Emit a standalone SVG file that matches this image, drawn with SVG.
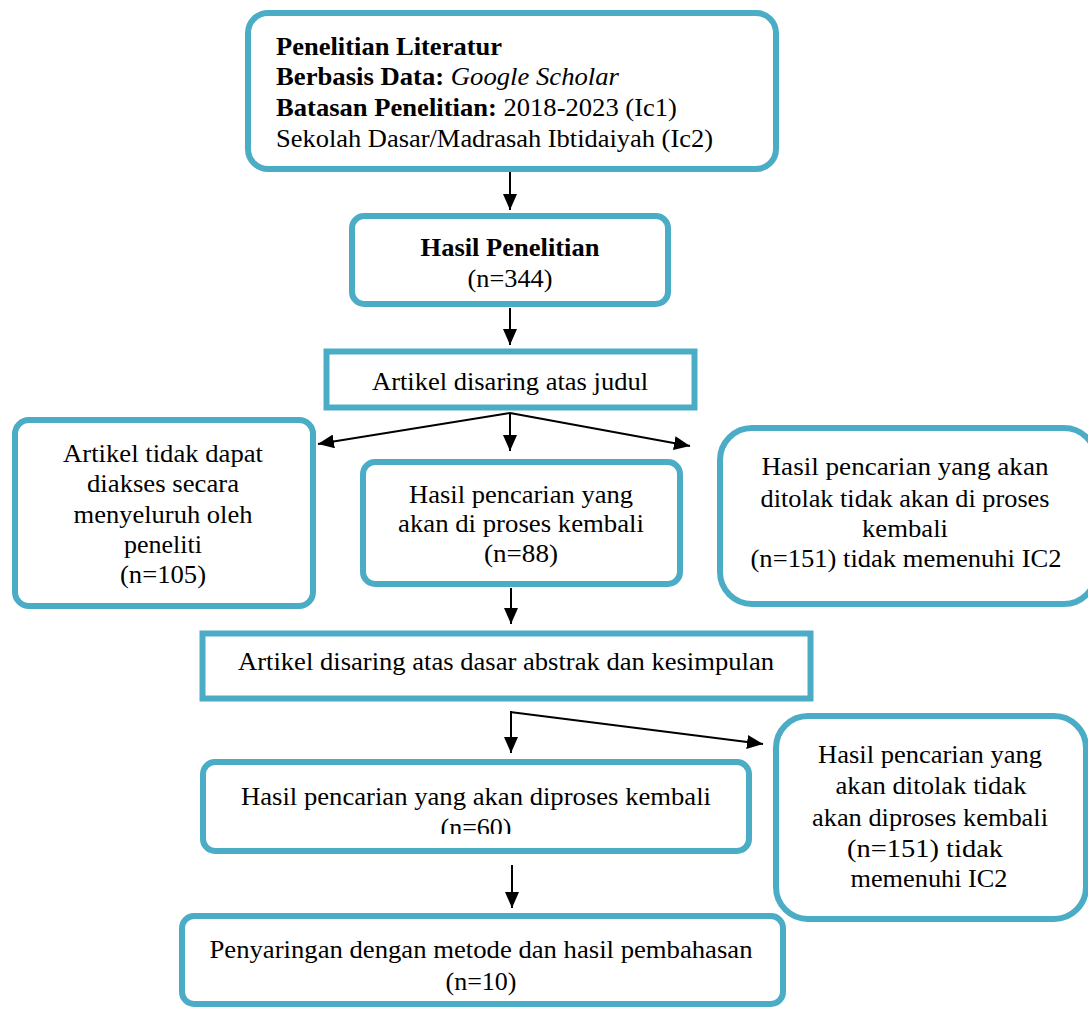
<svg xmlns="http://www.w3.org/2000/svg" width="1088" height="1009" viewBox="0 0 1088 1009">
<defs>
<style>
.box{fill:#fff;stroke:#4BACC6;stroke-width:6}
text{font-size:26px;fill:#000}
.c{text-anchor:middle}
.b{font-weight:bold}
.con{stroke:#000;stroke-width:2;fill:none}
</style>
<marker id="ah" viewBox="0 0 16 14" refX="16" refY="7" markerWidth="16" markerHeight="14" markerUnits="userSpaceOnUse" orient="auto">
<path d="M0,0 L16,7 L0,14 Z" fill="#000"/>
</marker>
<clipPath id="clip60"><rect x="205" y="765" width="540" height="69"/></clipPath>
</defs>
<rect width="1088" height="1009" fill="#fff"/>

<g id="connectors">
<line class="con" x1="510" y1="172" x2="510" y2="210" marker-end="url(#ah)"/>
<line class="con" x1="510" y1="308" x2="510" y2="345" marker-end="url(#ah)"/>
<line class="con" x1="510" y1="413" x2="318" y2="444" marker-end="url(#ah)"/>
<line class="con" x1="510" y1="413" x2="510" y2="451" marker-end="url(#ah)"/>
<line class="con" x1="510" y1="413" x2="690" y2="446" marker-end="url(#ah)"/>
<line class="con" x1="511" y1="588" x2="511" y2="624" marker-end="url(#ah)"/>
<line class="con" x1="511" y1="711" x2="511" y2="753" marker-end="url(#ah)"/>
<line class="con" x1="510" y1="712" x2="763" y2="744" marker-end="url(#ah)"/>
<line class="con" x1="512" y1="865" x2="512" y2="908" marker-end="url(#ah)"/>
</g>

<g font-family="'Liberation Serif', 'Times New Roman', Times, 'DejaVu Serif', serif">
<g id="n1">
<rect class="box" x="248" y="13" width="528" height="156" rx="20"/>
<text x="276" y="55" textLength="226" lengthAdjust="spacingAndGlyphs" class="b">Penelitian Literatur</text>
<text x="276" y="85" textLength="343" lengthAdjust="spacingAndGlyphs"><tspan class="b">Berbasis Data: </tspan><tspan font-style="italic">Google Scholar</tspan></text>
<text x="276" y="116" textLength="401" lengthAdjust="spacingAndGlyphs"><tspan class="b">Batasan Penelitian: </tspan>2018-2023 (Ic1)</text>
<text x="276" y="147" textLength="437" lengthAdjust="spacingAndGlyphs">Sekolah Dasar/Madrasah Ibtidaiyah (Ic2)</text>
</g>

<g id="n2">
<rect class="box" x="352" y="216" width="316" height="88" rx="12"/>
<text class="c b" x="510" y="256" textLength="179" lengthAdjust="spacingAndGlyphs">Hasil Penelitian</text>
<text class="c" x="510" y="287" textLength="85" lengthAdjust="spacingAndGlyphs">(n=344)</text>
</g>

<g id="n3">
<rect class="box" x="326.5" y="351.5" width="368" height="56"/>
<text class="c" x="510" y="390" textLength="276" lengthAdjust="spacingAndGlyphs">Artikel disaring atas judul</text>
</g>

<g id="n4">
<rect class="box" x="15" y="420" width="298" height="186" rx="14"/>
<text class="c" x="163" y="462" textLength="200" lengthAdjust="spacingAndGlyphs">Artikel tidak dapat</text>
<text class="c" x="163" y="492" textLength="152" lengthAdjust="spacingAndGlyphs">diakses secara</text>
<text class="c" x="163" y="523" textLength="179" lengthAdjust="spacingAndGlyphs">menyeluruh oleh</text>
<text class="c" x="163" y="553" textLength="78" lengthAdjust="spacingAndGlyphs">peneliti</text>
<text class="c" x="163" y="583" textLength="86" lengthAdjust="spacingAndGlyphs">(n=105)</text>
</g>

<g id="n5">
<rect class="box" x="363" y="462" width="317" height="122" rx="12"/>
<text class="c" x="521" y="503" textLength="224" lengthAdjust="spacingAndGlyphs">Hasil pencarian yang</text>
<text class="c" x="521" y="532" textLength="246" lengthAdjust="spacingAndGlyphs">akan di proses kembali</text>
<text class="c" x="521" y="562" textLength="74" lengthAdjust="spacingAndGlyphs">(n=88)</text>
</g>

<g id="n6">
<rect class="box" x="720" y="428" width="376" height="176" rx="32"/>
<text class="c" x="905" y="475" textLength="287" lengthAdjust="spacingAndGlyphs">Hasil pencarian yang akan</text>
<text class="c" x="905" y="507" textLength="289" lengthAdjust="spacingAndGlyphs">ditolak tidak akan di proses</text>
<text class="c" x="905" y="537" textLength="86" lengthAdjust="spacingAndGlyphs">kembali</text>
<text class="c" x="906" y="567" textLength="311" lengthAdjust="spacingAndGlyphs">(n=151) tidak memenuhi IC2</text>
</g>

<g id="n7">
<rect class="box" x="202.5" y="633.5" width="608" height="65"/>
<text class="c" x="506" y="670" textLength="536" lengthAdjust="spacingAndGlyphs">Artikel disaring atas dasar abstrak dan kesimpulan</text>
</g>

<g id="n8">
<rect class="box" x="203" y="762" width="546" height="89" rx="12"/>
<text class="c" x="476" y="805" textLength="470" lengthAdjust="spacingAndGlyphs">Hasil pencarian yang akan diproses kembali</text>
<text class="c" x="476" y="836" textLength="71" lengthAdjust="spacingAndGlyphs" clip-path="url(#clip60)">(n=60)</text>
</g>

<g id="n9">
<rect class="box" x="776" y="716" width="310" height="203" rx="32"/>
<text class="c" x="930" y="763" textLength="224" lengthAdjust="spacingAndGlyphs">Hasil pencarian yang</text>
<text class="c" x="931" y="794" textLength="191" lengthAdjust="spacingAndGlyphs">akan ditolak tidak</text>
<text class="c" x="930" y="826" textLength="236" lengthAdjust="spacingAndGlyphs">akan diproses kembali</text>
<text class="c" x="925" y="857" textLength="156" lengthAdjust="spacingAndGlyphs">(n=151) tidak</text>
<text class="c" x="929" y="887" textLength="157" lengthAdjust="spacingAndGlyphs">memenuhi IC2</text>
</g>

<g id="n10">
<rect class="box" x="182" y="916" width="601" height="88" rx="12"/>
<text class="c" x="481" y="958" textLength="543" lengthAdjust="spacingAndGlyphs">Penyaringan dengan metode dan hasil pembahasan</text>
<text class="c" x="481" y="990" textLength="71" lengthAdjust="spacingAndGlyphs">(n=10)</text>
</g>
</g>
</svg>
